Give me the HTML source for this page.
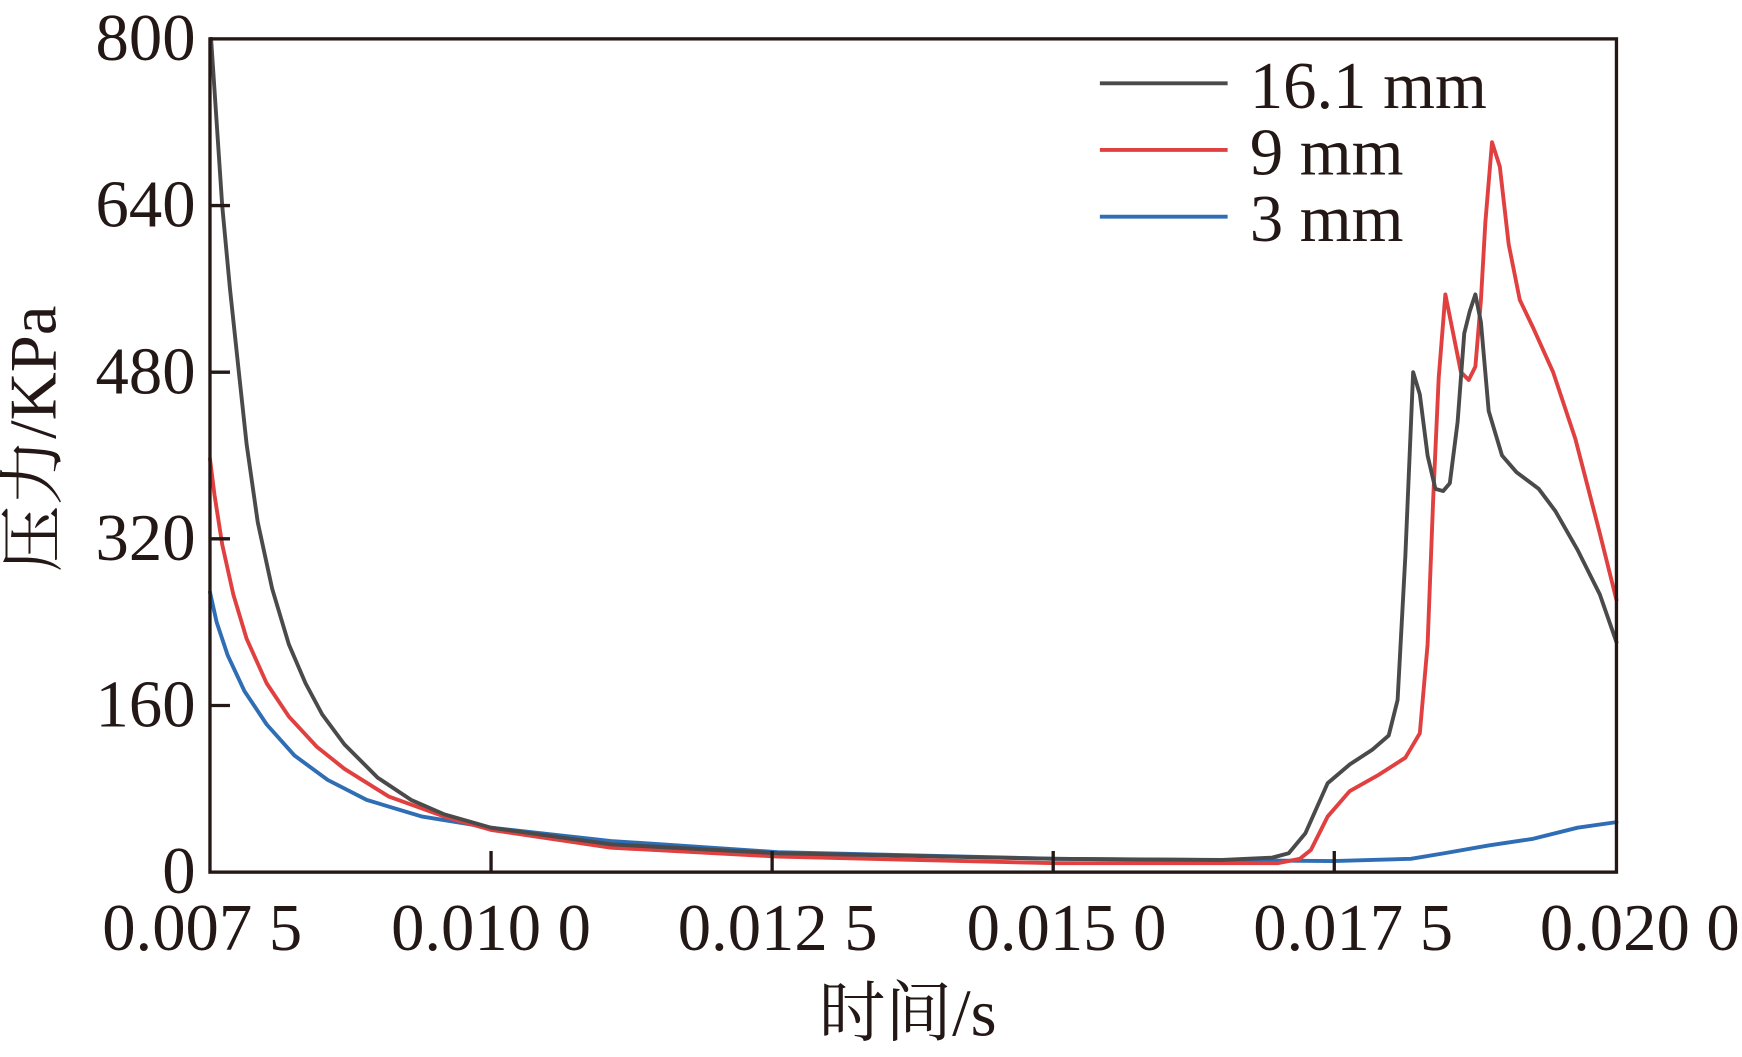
<!DOCTYPE html>
<html><head><meta charset="utf-8"><style>html,body{margin:0;padding:0;background:#fff}svg{display:block}</style></head>
<body>
<svg width="1742" height="1057" viewBox="0 0 1568 951.4" preserveAspectRatio="none" xmlns="http://www.w3.org/2000/svg">
<g fill="none" stroke-linejoin="round" stroke-linecap="round" stroke-width="3.5">
<polyline stroke="#2f6db5" points="189,533 195,560 205,590 220,622 240,652 265,680 295,702 330,720 380,735 442,745 550,757 700,767 950,773 1200,775 1270,773 1300,768 1340,761 1380,755 1420,745 1455,740"/>
<polyline stroke="#e14040" points="189,413 193,445 200,490 210,535 222,575 240,615 260,645 285,672 310,692 350,717 400,735 442,747 550,763 700,771 950,777 1150,777 1170,773 1180,765 1195,735 1215,712 1240,698 1265,682 1278,660 1285,580 1290,450 1295,340 1301,265 1308,300 1315,335 1322,342 1328,330 1333,270 1337,200 1343,128 1350,150 1358,220 1368,270 1380,295 1398,335 1418,395 1440,480 1455,540"/>
<polyline stroke="#4a4a4a" points="190,35 195,110 200,185 207,260 215,335 222,400 232,470 245,530 260,580 275,615 290,643 310,670 340,700 370,720 400,733 442,745 550,760 700,768 950,773 1100,774 1145,772 1160,768 1175,750 1195,705 1215,688 1235,675 1250,662 1258,630 1265,500 1272,335 1278,355 1285,410 1292,440 1299,442 1305,435 1312,380 1318,300 1323,280 1328,265 1333,290 1340,370 1352,410 1365,425 1385,440 1400,460 1420,495 1440,535 1455,578"/>
</g>
<g stroke="#231815" stroke-width="3" fill="none">
<rect x="189" y="35" width="1266" height="750"/>
<path d="M442,785V766M695,785V766M948,785V766M1201,785V766M189,635H207M189,485H207M189,335H207M189,185H207"/>
</g>
<g stroke-width="3.5">
<line x1="990" y1="75" x2="1105" y2="75" stroke="#4a4a4a"/>
<line x1="990" y1="135" x2="1105" y2="135" stroke="#e14040"/>
<line x1="990" y1="195" x2="1105" y2="195" stroke="#2f6db5"/>
</g>
<g font-family="Liberation Serif, serif" font-size="60" fill="#231815">
<text x="1125" y="97">16.1 mm</text>
<text x="1125" y="157">9 mm</text>
<text x="1125" y="217">3 mm</text>
<g text-anchor="end">
<text x="176" y="54">800</text>
<text x="176" y="204">640</text>
<text x="176" y="354">480</text>
<text x="176" y="504">320</text>
<text x="176" y="654">160</text>
<text x="176" y="804">0</text>
</g>
<g text-anchor="middle">
<text x="182" y="855">0.007 5</text>
<text x="442" y="855">0.010 0</text>
<text x="700" y="855">0.012 5</text>
<text x="960" y="855">0.015 0</text>
<text x="1218" y="855">0.017 5</text>
<text x="1476" y="855">0.020 0</text>
</g>
<text x="817" y="932" text-anchor="middle" font-family="Liberation Serif, Noto Serif CJK SC, serif">时间/s</text>
<text transform="translate(50,395) rotate(-90)" text-anchor="middle" font-family="Liberation Serif, Noto Serif CJK SC, serif">压力/KPa</text>
</g>
</svg>
</body></html>
